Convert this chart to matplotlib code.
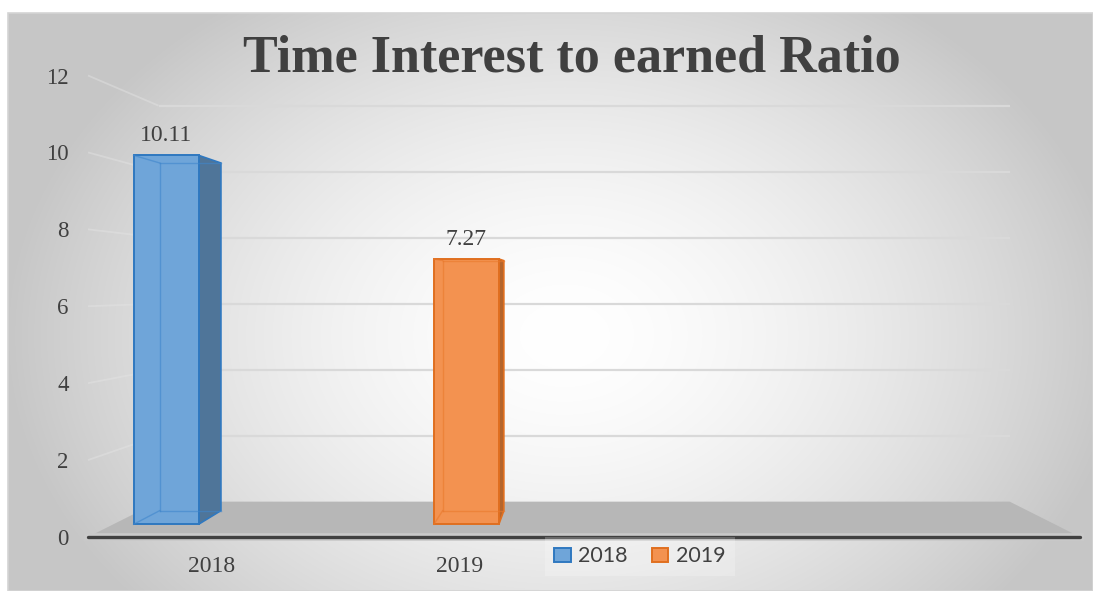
import numpy as np
import matplotlib
matplotlib.use("Agg")
import matplotlib.pyplot as plt
from matplotlib.patches import Polygon, Rectangle

# ---- data ---------------------------------------------------------------
categories = ["2018", "2019", "", ""]
series_names = ["2018", "2019"]
values_2018 = [10.11, np.nan, np.nan, np.nan]
values_2019 = [np.nan, 7.27, np.nan, np.nan]
y_ticks = [0, 2, 4, 6, 8, 10, 12]
title = "Time Interest to earned Ratio"

# ---- style --------------------------------------------------------------
W, H = 1093, 591
TEXT = "#404040"
SERIF = ["Liberation Serif", "DejaVu Serif"]
series_style = [
    dict(values=values_2018, offset=-1.0, face="#6fa5d9", side="#4f7599",
         edge="#2f78c0", inner="#3f86cc"),
    dict(values=values_2019, offset=0.0, face="#f39250", side="#b5652c",
         edge="#e06f1f", inner="#e9792c"),
]
BAR_W = 0.276            # width of one bar in category units
VX, VY = 1.504, 6.475    # vanishing point (data units)
T_FRONT, T_BACK, T_WALL = 0.051, 0.106, 0.142   # depths


def proj(x, y, t):
    """Point (x, y) pushed back to depth t toward the vanishing point."""
    return (x + t * (VX - x), y + t * (VY - y))


fig = plt.figure(figsize=(W / 100, H / 100), dpi=100)
fig.patch.set_facecolor("white")

# ---- chart-area background with a radial gradient ----------------------
left_px, top_px = 7.5, 12.7
bg = fig.add_axes([left_px / W, 0, 1 - left_px / W, 1 - top_px / H])
bg.set_axis_off()
yy, xx = np.mgrid[0:H, 0:W].astype(float)
r = np.sqrt(((xx - 560) / 560) ** 2 + ((yy - 330) / 420) ** 2)
g = 1 - 0.22 * np.clip(r, 0, 1) ** 1.6
bg.imshow(np.dstack([g, g, g]), extent=(0, 1, 0, 1), aspect="auto",
          interpolation="bilinear")
bg.set_xlim(0, 1)
bg.set_ylim(0, 1)
fig.patches.append(Rectangle((left_px / W, 0), 1 - left_px / W, 1 - top_px / H,
                             transform=fig.transFigure, fill=False,
                             edgecolor="#d4d4d4", lw=1.2, zorder=5))

# ---- main axes: front plane of the category axis -----------------------
x0, x1 = 88 / W, 1080 / W
y0, y1 = 1 - 537 / H, 1 - 75.5 / H
ax = fig.add_axes([x0, y0, x1 - x0, y1 - y0])
ax.set_facecolor("none")
ax.set_xlim(-0.5, len(categories) - 0.5)
ax.set_ylim(0, 12)
for s in ax.spines.values():
    s.set_visible(False)

xl, xr = -0.5, len(categories) - 0.5

# floor
floor = [proj(xl, 0, 0), proj(xr, 0, 0), proj(xr, 0, T_WALL), proj(xl, 0, T_WALL)]
ax.add_patch(Polygon(floor, closed=True, facecolor="#b7b7b7", edgecolor="none",
                     zorder=1, clip_on=False))
# thin lighter lip along the front edge of the floor
ax.plot([xl, xr], [0, 0], color="#c9c9c9", lw=5.5, zorder=1.5, clip_on=False)

# gridlines on the back wall and side wall
for v in y_ticks[1:]:
    a = proj(xl, v, 0)
    b = proj(xl, v, T_WALL)
    c = proj(xr, v, T_WALL)
    ax.plot([a[0], b[0]], [a[1], b[1]], color="#e4e4e4", lw=1.3, alpha=0.45,
            zorder=1, clip_on=False, solid_capstyle="butt")
    ax.plot([b[0], c[0]], [b[1], c[1]], color="#d9d9d9", lw=1.6, zorder=1,
            clip_on=False, solid_capstyle="butt")

# category axis line
ax.plot([xl, xr], [0, 0], color="#404040", lw=2.4, zorder=2, clip_on=False,
        solid_capstyle="round")

# ---- bars -----------------------------------------------------------------
handles = []
for name, st in zip(series_names, series_style):
    handle = None
    for i, v in enumerate(st["values"]):
        if np.isnan(v):
            continue
        cx = i + st["offset"] * BAR_W
        a, b = cx - BAR_W / 2, cx + BAR_W / 2
        fbl, fbr = proj(a, 0, T_FRONT), proj(b, 0, T_FRONT)
        ftl, ftr = proj(a, v, T_FRONT), proj(b, v, T_FRONT)
        bbl, bbr = proj(a, 0, T_BACK), proj(b, 0, T_BACK)
        btl, btr = proj(a, v, T_BACK), proj(b, v, T_BACK)

        # right side face
        ax.add_patch(Polygon([fbr, ftr, btr, bbr], closed=True,
                             facecolor=st["side"], edgecolor=st["edge"],
                             lw=1.2, zorder=3, clip_on=False))
        # front face
        front = Polygon([fbl, fbr, ftr, ftl], closed=True,
                        facecolor=st["face"], edgecolor=st["edge"], lw=1.4,
                        zorder=4, clip_on=False, label=name)
        ax.add_patch(front)
        handle = handle or front
        # hidden edges seen through the translucent box
        for p, q in [(ftl, btl), (fbl, bbl), (btl, btr), (bbl, bbr),
                     (btl, bbl)]:
            ax.plot([p[0], q[0]], [p[1], q[1]], color=st["inner"], lw=1.0,
                    alpha=0.6, zorder=5, clip_on=False)
        # value label
        lx, ly = proj(cx, v, T_FRONT)
        ax.annotate(f"{v:.2f}", (lx, ly), xytext=(0, 14),
                    textcoords="offset pixels", ha="center", va="baseline",
                    fontsize=17, family=SERIF, color=TEXT, zorder=6)
    handles.append(handle)

# ---- ticks ----------------------------------------------------------------
ax.set_xticks(range(len(categories)))
ax.set_xticklabels(categories, fontsize=17, family=SERIF, color=TEXT)
ax.set_yticks(y_ticks)
ax.set_yticklabels([str(t) for t in y_ticks], fontsize=16.5, family=SERIF,
                   color=TEXT)
ax.tick_params(axis="both", length=0)
ax.tick_params(axis="x", pad=14)
ax.tick_params(axis="y", pad=14)

# ---- title ------------------------------------------------------------------
fig.text(572 / W, 1 - 72 / H, title, ha="center", va="baseline",
         fontsize=37.5, fontweight="bold", family=SERIF, color=TEXT)

# ---- legend -----------------------------------------------------------------
leg = fig.legend(handles, series_names, loc="center",
                 bbox_to_anchor=(640 / W, 1 - 556.5 / H), ncol=2,
                 prop={"family": ["Lato", "DejaVu Sans"], "size": 15.5},
                 labelcolor=TEXT, handlelength=0.75, handleheight=0.6,
                 handletextpad=0.35, columnspacing=1.15, borderpad=0.45,
                 frameon=True, fancybox=False)
leg.get_frame().set_facecolor("white")
leg.get_frame().set_alpha(0.22)
leg.get_frame().set_edgecolor("none")
leg.set_zorder(10)

fig.savefig("out.png", dpi=100)
